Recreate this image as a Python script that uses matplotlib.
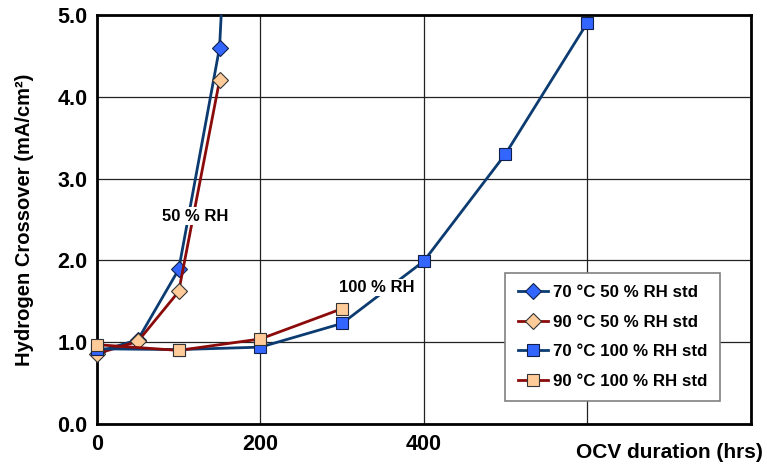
import matplotlib.pyplot as plt

plt.rcParams['font.family'] = ['Liberation Sans', 'DejaVu Sans']
plt.rcParams['font.weight'] = 'bold'

# Datos
hrs_70_50 = [0, 50, 100, 150, 200]
h2_70_50 = [0.88, 1.03, 1.89, 4.6, 14.5]

hrs_90_50 = [0, 50, 100, 150]
h2_90_50 = [0.86, 1.01, 1.62, 4.2]

hrs_70_100 = [0, 100, 200, 300, 400, 500, 600]
h2_70_100 = [0.92, 0.91, 0.94, 1.23, 1.99, 3.3, 4.9]

hrs_90_100 = [0, 100, 200, 300]
h2_90_100 = [0.97, 0.9, 1.04, 1.41]

x_ticks = [0, 200, 400, 600, 800]
x_tick_labels = ['0', '200', '400', '', '']
y_ticks = [0, 1, 2, 3, 4, 5]

navy = '#0B3B70'
darkred = '#8B0A0A'
blue = '#3366FF'
peach = '#FFCC99'

fig = plt.figure(figsize=(7.67, 4.66), dpi=100)
ax = fig.add_axes([0.1265, 0.090, 0.852, 0.878])

lines = []
lines += ax.plot(hrs_70_50, h2_70_50, color=navy, lw=2.0, marker='D', ms=8.5,
                 mfc=blue, mec='#10204a', mew=0.8, label='70 °C 50 % RH std', zorder=3)
lines += ax.plot(hrs_90_50, h2_90_50, color=darkred, lw=2.0, marker='D', ms=8.5,
                 mfc=peach, mec='#333333', mew=0.8, label='90 °C 50 % RH std', zorder=3)
lines += ax.plot(hrs_70_100, h2_70_100, color=navy, lw=2.0, marker='s', ms=9,
                 mfc=blue, mec='#10204a', mew=0.8, label='70 °C 100 % RH std', zorder=3)
lines += ax.plot(hrs_90_100, h2_90_100, color=darkred, lw=2.0, marker='s', ms=9,
                 mfc=peach, mec='#333333', mew=0.8, label='90 °C 100 % RH std', zorder=3)
for ln in lines:
    ln.set_clip_on(False)
# la primera serie sale del gráfico por arriba: recortar solo esa
lines[0].set_clip_on(True)

ax.set_xlim(0, 800)
ax.set_ylim(0, 5)
ax.set_xticks(x_ticks)
ax.set_xticklabels(x_tick_labels)
ax.set_yticks(y_ticks)
ax.set_yticklabels(['%.1f' % v for v in y_ticks])
ax.tick_params(length=0, labelsize=15.5, pad=7)
for lab in ax.get_xticklabels() + ax.get_yticklabels():
    lab.set_fontweight('bold')

ax.grid(True, color='#222222', lw=0.9)
ax.set_axisbelow(True)
for s in ax.spines.values():
    s.set_linewidth(2)
    s.set_color('black')

ax.set_ylabel('Hydrogen Crossover (mA/cm²)', fontsize=14.5, fontweight='bold')
ax.yaxis.set_label_coords(-0.097, 0.5)
fig.text(0.873, 0.028, 'OCV duration (hrs)', fontsize=15, fontweight='bold',
         ha='center', va='center')

ax.text(120, 2.54, '50 % RH', fontsize=12, fontweight='bold', ha='center', va='center',
        bbox=dict(facecolor='white', edgecolor='none', pad=1), zorder=4)
ax.text(342, 1.67, '100 % RH', fontsize=12, fontweight='bold', ha='center', va='center',
        bbox=dict(facecolor='white', edgecolor='none', pad=1), zorder=4)

leg = ax.legend(loc='upper left', bbox_to_anchor=(0.624, 0.37), fancybox=False,
                framealpha=1, edgecolor='#808080', labelspacing=0.85,
                handlelength=1.8, handletextpad=0.3, borderpad=0.75, borderaxespad=0,
                prop={'weight': 'bold', 'size': 12.2})
leg.get_frame().set_linewidth(1.2)
leg.set_zorder(5)

fig.savefig('out.png', dpi=100)
